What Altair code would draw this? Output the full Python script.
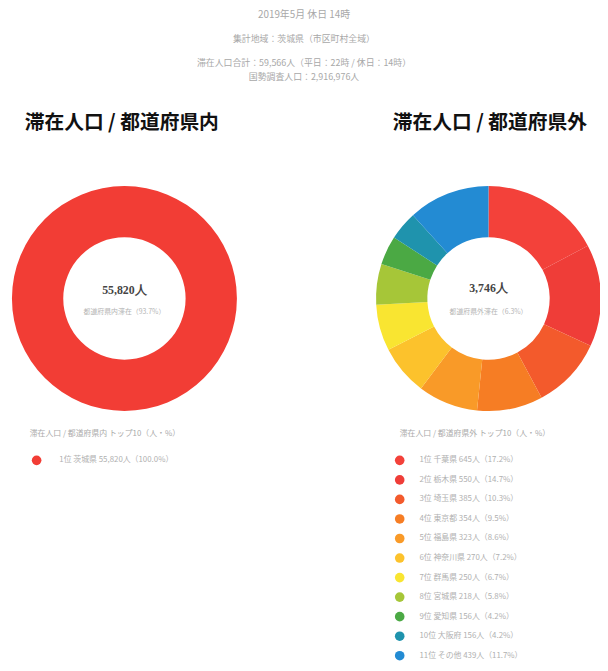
import altair as alt
import pandas as pd

FONT = "Noto Sans CJK JP"
SERIF = "Liberation Serif"

# ---- data ----
header_lines = [
    "2019年5月 休日 14時",
    "集計地域：茨城県（市区町村全域）",
    "滞在人口合計：59,566人（平日：22時 / 休日：14時）",
    "国勢調査人口：2,916,976人",
]
header_sizes = [10, 9, 9, 9]

panel_titles = ["滞在人口 / 都道府県内", "滞在人口 / 都道府県外"]
legend_titles = ["滞在人口 / 都道府県内 トップ10（人・%）", "滞在人口 / 都道府県外 トップ10（人・%）"]

in_names = ["茨城県"]
in_values = [55820]

out_names = ["千葉県", "栃木県", "埼玉県", "東京都", "福島県", "神奈川県",
             "群馬県", "宮城県", "愛知県", "大阪府", "その他"]
out_values = [645, 550, 385, 354, 323, 270, 250, 218, 156, 156, 439]

in_palette = ["#f23d35"]
out_palette = ["#f3413a", "#ef3d38", "#f35a2c", "#f67d24", "#f99a28", "#fcc22c",
               "#f9e531", "#a6c638", "#4ba944", "#1f93ad", "#238bd3"]

total_in = sum(in_values)
total_out = sum(out_values)
grand = total_in + total_out

# ---- frames ----
in_df = pd.DataFrame({"name": in_names, "value": in_values, "rank": range(1, len(in_names) + 1)})
out_df = pd.DataFrame({"name": out_names, "value": out_values, "rank": range(1, len(out_names) + 1)})
for df, tot in ((in_df, total_in), (out_df, total_out)):
    df["label"] = [
        f"{r}位 {n}  {v:,}人（{v / tot * 100:.1f}%）" for r, n, v in zip(df["rank"], df["name"], df["value"])
    ]

W, H = 600, 662
CXL, CXR, CY = 118, 487, 290
R_OUT, R_IN = 114, 62

def donut(df, palette, cx):
    return alt.Chart(df).mark_arc(radius=R_OUT, radius2=R_IN).encode(
        theta=alt.Theta("value:Q", stack=True),
        order=alt.Order("rank:Q"),
        color=alt.Color("name:N", scale=alt.Scale(domain=list(df["name"]), range=palette), legend=None),
        x=alt.value(cx),
        y=alt.value(CY),
    )

def legend(df, palette, cx, tx):
    yenc = alt.Y("rank:Q", scale=alt.Scale(domain=[1, 11], range=[454, 652]), axis=None)
    dots = alt.Chart(df).mark_circle(size=95, opacity=1).encode(
        x=alt.value(cx),
        y=yenc,
        color=alt.Color("name:N", scale=alt.Scale(domain=list(df["name"]), range=palette), legend=None),
    )
    txt = alt.Chart(df).mark_text(align="left", baseline="middle", font=FONT, fontSize=8, color="#b0b0b0").encode(
        x=alt.value(tx),
        y=yenc,
        text="label:N",
    )
    return dots + txt

def text_layer(txt, x, y, size, color, weight="normal", align="center", font=FONT):
    return alt.Chart(pd.DataFrame({"t": [txt]})).mark_text(
        align=align, baseline="middle", font=font, fontSize=size, color=color, fontWeight=weight
    ).encode(x=alt.value(x), y=alt.value(y), text="t:N")

layers = []
header_y = [3, 27, 51, 66]
for line, sz, yy in zip(header_lines, header_sizes, header_y):
    layers.append(text_layer(line, 300, yy, sz, "#a8a8a8"))

layers.append(text_layer(panel_titles[0], 17, 112, 20, "#111111", "bold", "left"))
layers.append(text_layer(panel_titles[1], 390, 112, 20, "#111111", "bold", "left"))

layers.append(donut(in_df, in_palette, CXL))
layers.append(donut(out_df, out_palette, CXR))

layers.append(text_layer(f"{total_in:,}人", CXL, 281, 12, "#444444", "bold", font=SERIF))
layers.append(text_layer(f"都道府県内滞在（{total_in / grand * 100:.1f}%）", CXL, 304, 7, "#b5b5b5"))
layers.append(text_layer(f"{total_out:,}人", CXR, 279, 12, "#444444", "bold", font=SERIF))
layers.append(text_layer(f"都道府県外滞在（{total_out / grand * 100:.1f}%）", CXR, 304, 7, "#b5b5b5"))

layers.append(text_layer(legend_titles[0], 22, 427, 8, "#aaaaaa", align="left"))
layers.append(text_layer(legend_titles[1], 397, 427, 8, "#aaaaaa", align="left"))

layers.append(legend(in_df, in_palette, 29, 52))
layers.append(legend(out_df, out_palette, 397, 417))

chart = alt.layer(*layers).resolve_scale(
    theta="independent", color="independent"
).properties(
    width=W, height=H, padding=0, autosize=alt.AutoSizeParams(type="none")
).configure_view(stroke=None)

chart.save("out.html", embed_options={"renderer": "svg", "actions": False})
